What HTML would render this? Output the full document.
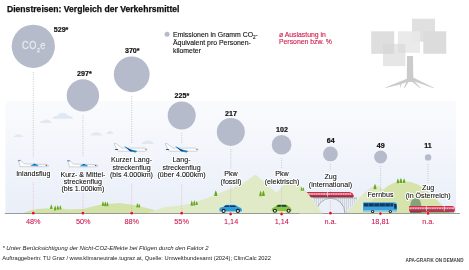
<!DOCTYPE html>
<html><head><meta charset="utf-8">
<style>
html,body{margin:0;padding:0;background:#fff;width:469px;height:270px;overflow:hidden}
svg{display:block;will-change:transform}
text{font-family:"Liberation Sans",sans-serif}
.t{font-size:7.1px;fill:#111;stroke:#111;stroke-width:0.07px;text-anchor:middle}
.n{font-size:7.1px;font-weight:bold;fill:#111;stroke:#111;stroke-width:0.2px;text-anchor:middle}
.p{font-size:7.3px;fill:#c8134a;stroke:#c8134a;stroke-width:0.06px;text-anchor:middle}
.hl text{stroke:#fff;stroke-width:2.2px;stroke-linejoin:round;stroke-opacity:.9}
</style></head>
<body>
<svg width="469" height="270" viewBox="0 0 469 270">
<defs>
<linearGradient id="sky" x1="0" y1="0" x2="0" y2="1">
<stop offset="0" stop-color="#fafbfd"/>
<stop offset="1" stop-color="#e9eef8"/>
</linearGradient>
</defs>
<!-- sky -->
<rect x="5.4" y="101" width="450.6" height="112.7" fill="url(#sky)"/>


<!-- clouds -->
<g fill="#e0e8f4">
<path d="M13.7 136.9 Q15.5 134.6 18.3 134.3 Q21.5 134.3 23.9 136.9 Z"/>
<path d="M39.2 122.9 Q41 120.3 44 120.4 Q45.8 119.2 48 119.8 Q50.5 120.8 52 122.9 Z"/>
<path d="M52 118.7 Q53 116.3 57 116 Q58.5 113.2 62.5 112.7 Q66.5 112.8 68 115.6 Q72 116 73.4 118.7 Z"/>
<path d="M90 135.4 Q92 132.6 95.5 132.3 Q99.5 131.6 102.8 135.4 Z"/>
<path d="M106 133.9 Q108 131 110 130.8 Q112 130.8 113.5 133.9 Z"/>
<path d="M141.2 143.9 Q143 141 146.5 140.9 Q148.5 140 150.5 140.8 Q153 141.5 154 143.9 Z"/>
</g>

<!-- title -->
<text x="7" y="11.5" style="font-size:8.6px;font-weight:bold;fill:#111;stroke:#111;stroke-width:0.25px">Dienstreisen: Vergleich der Verkehrsmittel</text>

<!-- legend -->
<circle cx="167.1" cy="34.2" r="2.5" fill="#b5bbca"/>
<text x="173" y="36.7" style="font-size:6.9px;fill:#111;stroke:#111;stroke-width:0.12px">Emissionen in Gramm CO<tspan style="font-size:4.6px" dy="1.9">2</tspan><tspan dy="-1.9">-</tspan></text>
<text x="173" y="44.5" style="font-size:6.9px;fill:#111;stroke:#111;stroke-width:0.12px">Äquivalent pro Personen-</text>
<text x="173" y="52.9" style="font-size:6.9px;fill:#111;stroke:#111;stroke-width:0.12px">kilometer</text>
<text x="279" y="36.6" style="font-size:6.85px;fill:#cc1a4c;stroke:#cc1a4c;stroke-width:0.12px">ø Auslastung in</text>
<text x="279" y="44.3" style="font-size:6.85px;fill:#cc1a4c;stroke:#cc1a4c;stroke-width:0.12px">Personen bzw. %</text>

<!-- tree logo -->
<rect x="412" y="18.7" width="23" height="23" fill="#e0e0e0"/>
<rect x="371.2" y="31.3" width="23" height="22.5" fill="#dedede"/>
<rect x="423.3" y="31.3" width="23" height="22.5" fill="#dcdcdc"/>
<rect x="397.9" y="31.3" width="22.2" height="21.5" fill="#e8e8e8" fill-opacity="0.92"/>
<rect x="383" y="43.9" width="22.4" height="22.2" fill="#d6d6d6" fill-opacity="0.6"/>
<g fill="#cbcbcb">
<path d="M407 55.9 H413 L413.3 77.6 L434.3 87.9 L433.6 88.2 L414.6 81.5 L420.6 87.8 L419.9 88 L412.4 82 L408.6 82 L404.6 88 L403.8 87.8 L406.4 82.2 L401.6 84 L400.4 87.4 L399.9 87.2 L400.3 84.4 L385.4 88 L385.3 87.5 L406.8 78.8 Z"/>
</g>
<!-- hills -->
<path d="M21.5 213.5 L30 210.5 L38 209 L47.7 208.2 L57.3 208.2 L69 209.5 L83 208.9 L101 204.6 L120 203.1 L122.8 203.4 L135.6 205.3 L152.6 209.5 L161.2 213.5 Z" fill="#d3e2a6"/>
<path d="M146 213.5 L165.4 207 L182.5 205.3 L195 202.8 L242.5 183.8 L255.5 174.4 L276.5 192.8 L290 178 L299.3 185.5 L307.3 192.7 L314 201.5 L321.6 212.5 L322.5 213.5 Z" fill="#e0eac6"/>
<path d="M346 213.5 L358 199.5 Q367 188.5 375.5 185.6 Q380 186 384 190 L384 213.5 Z" fill="#dfe9c4"/>
<path d="M360 213.5 L379 193.5 Q390 182 401 181.2 Q410 180.8 418 184.5 Q426 189 433 196 Q441 204 447 210.5 L450.5 213.5 Z" fill="#d6e3ab"/>

<!-- bridge -->
<g stroke="#a9acb2" stroke-width="0.45" fill="none">
<path d="M314.4 198 V205 M316.4 198 V208 M318.4 198 V206 M320.4 198 V203 M322.4 198 V201 M338.6 198 V201 M340.6 198 V203 M342.6 198 V206 M344.6 198 V213 M346.6 198 V213 M348.6 198 V209 M350.6 198 V207 M352.6 198 V205 M354.6 198 V203 M356.4 198 V200.5"/>
</g>
<path d="M316.3 213.2 A14.3 15 0 0 1 344.9 213.2" fill="none" stroke="#9a9ea6" stroke-width="0.8"/>
<line x1="313" y1="198" x2="357" y2="198" stroke="#9a9ea6" stroke-width="0.7"/>
<!-- tunnel -->
<path d="M410.2 213 L410.2 205.5 Q410.8 198.3 415.8 198.3 Q420.8 198.3 421.3 205.5 L421.3 213 Z" fill="#86a27b"/>
<!-- trees -->
<g fill="#68a820" stroke="#fff" stroke-width="0.6" stroke-opacity="0.55" paint-order="stroke">
<path d="M51.3 204.2 Q52.56 206.89 52.50 209.1 L50.10 209.1 Q50.04 206.89 51.3 204.2 Z"/>
<path d="M55.1 205.3 Q56.36 208.11 56.30 210.4 L53.90 210.4 Q53.84 208.11 55.1 205.3 Z"/>
<path d="M57.8 204.9 Q59.06 207.59 59.00 209.8 L56.60 209.8 Q56.54 207.59 57.8 204.9 Z"/>
<path d="M60.4 204.9 Q61.66 207.49 61.60 209.6 L59.20 209.6 Q59.14 207.49 60.4 204.9 Z"/>
<path d="M103 200.9 Q104.26 203.76 104.20 206.1 L101.80 206.1 Q101.74 203.76 103 200.9 Z"/>
<path d="M105.3 201.2 Q106.61 204.00 106.55 206.3 L104.05 206.3 Q103.99 204.00 105.3 201.2 Z"/>
<path d="M107.4 201.6 Q108.56 204.13 108.50 206.2 L106.30 206.2 Q106.25 204.13 107.4 201.6 Z"/>
<path d="M137.4 203.1 Q138.66 205.52 138.60 207.5 L136.20 207.5 Q136.14 205.52 137.4 203.1 Z"/>
<path d="M139.2 203.6 Q140.25 205.75 140.20 207.5 L138.20 207.5 Q138.15 205.75 139.2 203.6 Z"/>
<path d="M191.8 200.3 Q193.11 203.27 193.05 205.7 L190.55 205.7 Q190.49 203.27 191.8 200.3 Z"/>
<path d="M194.4 199.9 Q195.77 202.93 195.70 205.4 L193.10 205.4 Q193.03 202.93 194.4 199.9 Z"/>
<path d="M196.8 200.8 Q197.96 203.16 197.90 205.1 L195.70 205.1 Q195.65 203.16 196.8 200.8 Z"/>
<path d="M215.8 190.3 Q217.48 193.49 217.40 196.1 L214.20 196.1 Q214.12 193.49 215.8 190.3 Z"/>
<path d="M260.6 190.6 Q262.07 193.68 262.00 196.2 L259.20 196.2 Q259.13 193.68 260.6 190.6 Z"/>
<path d="M263.4 190.3 Q264.97 193.44 264.90 196 L261.90 196 Q261.82 193.44 263.4 190.3 Z"/>
<path d="M375 183.8 Q376.57 186.83 376.50 189.3 L373.50 189.3 Q373.43 186.83 375 183.8 Z"/>
<path d="M397.9 178.2 Q399.26 181.00 399.20 183.3 L396.60 183.3 Q396.53 181.00 397.9 178.2 Z"/>
<path d="M400.9 177.7 Q402.37 180.67 402.30 183.1 L399.50 183.1 Q399.43 180.67 400.9 177.7 Z"/>
<path d="M404.1 178.3 Q405.47 180.94 405.40 183.1 L402.80 183.1 Q402.74 180.94 404.1 178.3 Z"/>
</g>

<!-- ground line -->
<line x1="4.8" y1="213.5" x2="460" y2="213.5" stroke="#8c8c8c" stroke-width="1" stroke-opacity="0.85"/>

<!-- circles -->
<g fill="#b5bbca">
<circle cx="33.3" cy="46.3" r="21.6"/>
<circle cx="82.9" cy="95.4" r="16.2"/>
<circle cx="131.7" cy="74.3" r="17.9"/>
<circle cx="181.7" cy="115.5" r="14"/>
<circle cx="230.8" cy="131.9" r="14"/>
<circle cx="281.6" cy="144.8" r="9.8"/>
<circle cx="330.4" cy="153.9" r="7.4"/>
<circle cx="380.6" cy="157" r="6.5"/>
<circle cx="428.1" cy="157.4" r="3.2"/>
</g>
<text transform="translate(22.1 49) scale(0.86 1)" style="font-size:10.8px;fill:#e8eaf0;stroke:#e8eaf0;stroke-width:0.25px;letter-spacing:0.5px">CO<tspan style="font-size:6.2px" dy="2.9">2</tspan><tspan dy="-2.9">e</tspan></text>

<!-- numbers -->
<text class="n" x="61.1" y="32.3">529*</text>
<text class="n" x="84.4" y="76.1">297*</text>
<text class="n" x="132.3" y="53.2">370*</text>
<text class="n" x="181.9" y="98.0">225*</text>
<text class="n" x="231" y="116.3">217</text>
<text class="n" x="282" y="132.3">102</text>
<text class="n" x="330.7" y="143.2">64</text>
<text class="n" x="380.7" y="148.2">49</text>
<text class="n" x="428" y="147.9">11</text>

<!-- gray dotted lines -->
<g stroke="#aeb0b8" stroke-width="0.7" stroke-dasharray="0.9 1.4">
<line x1="33.3" y1="72" x2="33.3" y2="157.6"/>
<line x1="82.9" y1="115.4" x2="82.9" y2="157"/>
<line x1="131.7" y1="96" x2="131.7" y2="144.3"/>
<line x1="181.7" y1="132.9" x2="181.7" y2="143.2"/>
<line x1="230.8" y1="149" x2="230.8" y2="169"/>
<line x1="281.6" y1="158" x2="281.6" y2="169"/>
<line x1="330.4" y1="164" x2="330.4" y2="171"/>
<line x1="380.6" y1="166" x2="380.6" y2="190"/>
<line x1="428.1" y1="164" x2="428.1" y2="183"/>
</g>
<!-- pink dotted lines -->
<g stroke="#e2809c" stroke-width="0.6" stroke-dasharray="0.9 1.3" stroke-opacity="0.75">
<line x1="33.3" y1="182.2" x2="33.3" y2="212"/>
<line x1="82.9" y1="193.6" x2="82.9" y2="212"/>
<line x1="131.7" y1="183.9" x2="131.7" y2="212"/>
<line x1="181.7" y1="183.9" x2="181.7" y2="212"/>
<line x1="230.8" y1="186.4" x2="230.8" y2="204"/>
<line x1="281.6" y1="186.4" x2="281.6" y2="204"/>
<line x1="330.4" y1="189" x2="330.4" y2="212"/>
</g>

<!-- prop plane -->
<g id="prop">
<path d="M18.3 160.2 L20.6 160.4 L24.2 163.8 L29 164 L46.3 164.4 Q48.9 165.1 48.9 166 Q48.4 166.6 47 166.7 L20 166.7 L19.2 163 Z" fill="#fdfdfd" stroke="#9aa0a8" stroke-width="0.45"/>
<rect x="17.8" y="159.9" width="2.8" height="1.3" rx="0.4" fill="#7f9fbf"/>
<path d="M30.4 166.1 Q32 163.9 34.5 163.7 Q37 163.7 38.7 165.5 L37.8 166.2 Z" fill="#3a9fe0"/>
<ellipse cx="34.4" cy="164.3" rx="1.15" ry="0.5" fill="#134c8c"/>
<ellipse cx="46.4" cy="165.3" rx="0.8" ry="0.5" fill="#4a4a4a"/>
</g>
<!-- jets -->
<g id="jet">
<path d="M165.1 143.6 L166.9 143.4 L172.9 148.1 L195.5 148.1 Q198.3 148.6 198.2 149.8 Q197.5 151.1 196.6 151.2 L169.8 151.2 Q168 150.6 167.7 149 Z" fill="#fdfdfd" stroke="#9aa0a8" stroke-width="0.45"/>
<path d="M165.6 149 L168.4 149 L169.6 150 L166.5 150 Z" fill="#1f4f8a"/>
<path d="M175.2 146.5 L176.3 146.6 L181 149.3 L188.2 151.1 L186.5 152.4 L181.5 151.6 Z" fill="#1b7fc6"/>
<path d="M177 147.6 L181 149.4 L183.5 150.5 L181.3 151.3 Z" fill="#0d3d75"/>
<ellipse cx="196.9" cy="149.4" rx="0.8" ry="0.45" fill="#3a3a3a"/>
</g>
<use href="#jet" x="-51" y="0"/>
<!-- plane 2 -->
<use href="#prop" x="49.3" y="0.2"/>
<!-- cars -->
<g stroke="#fff" stroke-opacity="0.6" stroke-width="1" paint-order="stroke">
<path d="M219.4 211.6 L219.4 209 Q219.6 207.6 221.2 207.3 L223 206.9 L225.3 205.1 Q225.8 204.8 226.6 204.8 L234.6 204.8 Q235.4 204.8 236 205.2 L238.6 207 Q241.4 207.4 241.9 209.2 L241.9 211.6 Z" fill="#2f9ed8"/>
<path d="M271.6 211.2 L271.6 209 Q271.8 207.7 273.4 207.4 L274.6 207 L277.2 204.8 Q277.8 204.2 278.8 204.2 L285 204.2 Q286.6 204.3 287.6 205.2 L289.4 206.8 Q291.6 207.6 291.6 209.4 L291.6 211.2 Z" fill="#8cc63e"/>
</g>
<g fill="#16375e">
<path d="M223.6 207 L225.6 205.5 L229.2 205.5 L229.2 207 Z M229.9 205.5 L234.4 205.5 L236.5 207 L229.9 207 Z"/>
<path d="M276.3 206.8 L278 205 L280.9 205 L280.9 206.8 Z M281.5 205 L285.6 205 L287.3 206.8 L281.5 206.8 Z"/>
</g>
<g fill="#1b1b1b"><circle cx="223.6" cy="210.9" r="2.05"/><circle cx="237.9" cy="210.9" r="2.05"/><circle cx="274.9" cy="210.7" r="2.05"/><circle cx="288.6" cy="210.7" r="2.05"/></g>
<g fill="#f2f2f2"><circle cx="223.6" cy="210.9" r="1"/><circle cx="237.9" cy="210.9" r="1"/><circle cx="274.9" cy="210.7" r="1"/><circle cx="288.6" cy="210.7" r="1"/></g>
<!-- bus -->
<g stroke="#fff" stroke-opacity="0.55" stroke-width="0.9" paint-order="stroke">
<path d="M363 211.5 L363 203.2 Q363 202.3 364 202.3 L394.5 202.3 Q396.8 202.6 397.1 205 L397.1 211.5 Z" fill="#3aa2dc"/>
</g>
<path d="M363.8 203.3 H393 Q393.5 205 393 206.5 H363.8 Z" fill="#15375e"/>
<path d="M393.9 204 H396.3 Q396.8 206 396.6 208.7 H394.2 Z" fill="#15375e"/>
<line x1="363.3" y1="210.6" x2="396.8" y2="210.6" stroke="#d8ecf8" stroke-width="0.5"/>
<path d="M368.5 203.3 V206.5 M374.1 203.3 V206.5 M379.6 203.3 V206.5 M385.2 203.3 V206.5 M390.3 203.3 V206.5" stroke="#3a9ad4" stroke-width="0.45"/>
<g fill="#1b1b1b"><circle cx="372.6" cy="211.5" r="1.6"/><circle cx="390.3" cy="211.5" r="1.6"/></g>
<g fill="#e8e8e8"><circle cx="372.6" cy="211.5" r="0.7"/><circle cx="390.3" cy="211.5" r="0.7"/></g>
<!-- train 1 -->
<g>
<path d="M306.5 191.9 H349.5 Q352.6 192.3 353.7 195.4 L353.7 197 H306.5 Z" fill="#e3213f"/>
<path d="M307 193.3 H350.3 Q351.3 193.8 351.6 194.8 H307 Z" fill="#f6f6f8"/>
<line x1="308" y1="194.05" x2="350.5" y2="194.05" stroke="#24506e" stroke-width="0.75" stroke-dasharray="1.2 0.5"/>
<rect x="327.3" y="191.9" width="0.6" height="5.2" fill="#f6f6f8"/>
<rect x="307" y="196.6" width="46" height="0.9" fill="#2b2b2b" fill-opacity="0.75"/>
</g>
<path d="M299.3 185.5 L307.3 192.7 L314 201.5 L321.6 212.5 L322.5 213.5 L299.3 213.5 Z" fill="#e0eac6"/>
<g fill="#68a820" stroke="#fff" stroke-width="0.6" stroke-opacity="0.55" paint-order="stroke"><path d="M301.6 186.4 Q302.7 188.9 302.6 190.8 L300.6 190.8 Q300.5 188.9 301.6 186.4 Z"/><path d="M303.3 186.9 Q304.3 189.1 304.2 190.8 L302.4 190.8 Q302.3 189.1 303.3 186.9 Z"/></g>
<!-- train 2 -->
<g>
<path d="M409.2 205.9 H452 Q454.8 206.3 454.8 209 L454.8 211.6 H409.2 Z" fill="#e3213f"/>
<rect x="409.6" y="207.5" width="44.6" height="1.6" fill="#f6f6f8"/>
<line x1="410.5" y1="208.3" x2="453.5" y2="208.3" stroke="#24506e" stroke-width="0.75" stroke-dasharray="1.2 0.5"/>
<rect x="426" y="205.9" width="0.6" height="5.7" fill="#f6f6f8"/>
<rect x="443.9" y="205.9" width="0.6" height="5.7" fill="#f6f6f8"/>
<rect x="410" y="211.3" width="44" height="1.1" fill="#2b2b2b" fill-opacity="0.75"/>
</g>

<!-- vehicle labels -->
<g class="hl">
<text class="t" x="33.3" y="176.1">Inlandsflug</text>
<text class="t" x="82.9" y="176.9">Kurz- &amp; Mittel-</text>
<text class="t" x="82.9" y="184.1">streckenflug</text>
<text class="t" x="82.9" y="191.3">(bis 1.000km)</text>
<text class="t" x="131.5" y="162.2">Kurzer Lang-</text>
<text class="t" x="131.5" y="169.5">streckenflug</text>
<text class="t" x="131.5" y="176.8">(bis 4.000km)</text>
<text class="t" x="181.5" y="162.2">Lang-</text>
<text class="t" x="181.5" y="169.5">streckenflug</text>
<text class="t" x="181.5" y="176.8">(über 4.000km)</text>
<text class="t" x="231" y="176.0">Pkw</text>
<text class="t" x="231" y="183.8">(fossil)</text>
<text class="t" x="282" y="176.0">Pkw</text>
<text class="t" x="282" y="183.8">(elektrisch)</text>
<text class="t" x="330.5" y="179.3">Zug</text>
<text class="t" x="330.5" y="187.0">(international)</text>
<text class="t" x="380.5" y="197.0">Fernbus</text>
<text class="t" x="428.2" y="189.9">Zug</text>
<text class="t" x="428.2" y="197.8">(in Österreich)</text>
</g>
<text class="t" x="33.3" y="176.1">Inlandsflug</text>
<text class="t" x="82.9" y="176.9">Kurz- &amp; Mittel-</text>
<text class="t" x="82.9" y="184.1">streckenflug</text>
<text class="t" x="82.9" y="191.3">(bis 1.000km)</text>
<text class="t" x="131.5" y="162.2">Kurzer Lang-</text>
<text class="t" x="131.5" y="169.5">streckenflug</text>
<text class="t" x="131.5" y="176.8">(bis 4.000km)</text>
<text class="t" x="181.5" y="162.2">Lang-</text>
<text class="t" x="181.5" y="169.5">streckenflug</text>
<text class="t" x="181.5" y="176.8">(über 4.000km)</text>
<text class="t" x="231" y="176.0">Pkw</text>
<text class="t" x="231" y="183.8">(fossil)</text>
<text class="t" x="282" y="176.0">Pkw</text>
<text class="t" x="282" y="183.8">(elektrisch)</text>
<text class="t" x="330.5" y="179.3">Zug</text>
<text class="t" x="330.5" y="187.0">(international)</text>
<text class="t" x="380.5" y="197.0">Fernbus</text>
<text class="t" x="428.2" y="189.9">Zug</text>
<text class="t" x="428.2" y="197.8">(in Österreich)</text>

<!-- markers -->
<g fill="#e0122f" stroke="#fff" stroke-width="0.7" stroke-opacity="0.8" paint-order="stroke">
<circle cx="33.3" cy="213.2" r="1.4"/>
<circle cx="82.9" cy="213.2" r="1.4"/>
<circle cx="131.7" cy="213.2" r="1.4"/>
<circle cx="181.7" cy="213.2" r="1.4"/>
<circle cx="230.6" cy="214" r="1.4"/>
<circle cx="281.6" cy="214" r="1.4"/>
<circle cx="330.4" cy="213.2" r="1.4"/>
<circle cx="380.4" cy="213.6" r="1.4"/>
<circle cx="428.1" cy="213.4" r="1.4"/>
</g>

<!-- percentages -->
<text class="p" x="33.3" y="224.3">48%</text>
<text class="p" x="83.3" y="224.3">50%</text>
<text class="p" x="131.8" y="224.3">88%</text>
<text class="p" x="181.6" y="224.3">55%</text>
<text class="p" x="231.1" y="224.3">1,14</text>
<text class="p" x="281.8" y="224.3">1,14</text>
<text class="p" x="330.6" y="224.3">n.a.</text>
<text class="p" x="380.4" y="224.3">18,81</text>
<text class="p" x="428.3" y="224.3">n.a.</text>

<!-- footnotes -->
<text x="2.4" y="250.4" style="font-size:5.95px;font-style:italic;fill:#1a1a1a">* Unter Berücksichtigung der Nicht-CO2-Effekte bei Flügen durch den Faktor 2</text>
<text x="2.3" y="259.9" style="font-size:5.75px;fill:#1a1a1a">Auftraggeberin: TU Graz / www.klimaneutrale.tugraz.at, Quelle: Umweltbundesamt (2024); ClimCalc 2022</text>
<text x="405.4" y="261.6" style="font-size:4.6px;font-weight:bold;fill:#444">APA-GRAFIK ON DEMAND</text>
</svg>
</body></html>
